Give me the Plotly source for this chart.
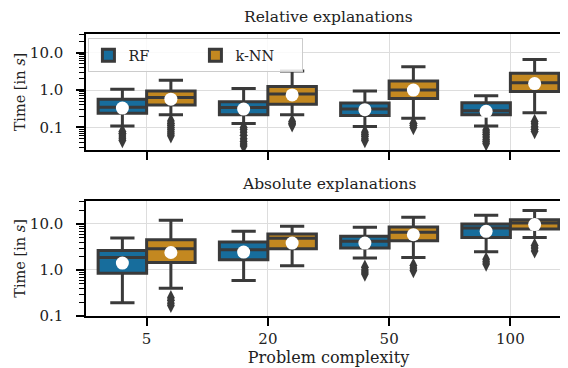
import plotly.graph_objects as go

categories = ["5", "20", "50", "100"]

# Relative explanations (time in s)
rel_rf_q1 = [0.24, 0.22, 0.21, 0.22]
rel_rf_median = [0.35, 0.34, 0.31, 0.28]
rel_rf_q3 = [0.57, 0.49, 0.45, 0.46]
rel_rf_low = [0.11, 0.128, 0.106, 0.11]
rel_rf_high = [1.05, 1.1, 0.95, 0.7]
rel_rf_mean = [0.33, 0.31, 0.30, 0.27]
rel_rf_outliers = [
    [0.078, 0.07, 0.063, 0.056, 0.05, 0.045],
    [0.1, 0.088, 0.075, 0.062, 0.05, 0.042, 0.036, 0.032],
    [0.075, 0.066, 0.058, 0.05, 0.045],
    [0.085, 0.075, 0.065, 0.056, 0.048, 0.042, 0.037],
]

rel_knn_q1 = [0.40, 0.42, 0.60, 0.91]
rel_knn_median = [0.63, 0.78, 1.0, 1.58]
rel_knn_q3 = [0.95, 1.24, 1.75, 2.8]
rel_knn_low = [0.218, 0.218, 0.177, 0.246]
rel_knn_high = [1.83, 3.25, 4.23, 6.6]
rel_knn_mean = [0.57, 0.74, 1.0, 1.49]
rel_knn_outliers = [
    [0.15, 0.13, 0.115, 0.1, 0.088, 0.077, 0.068, 0.06],
    [0.145, 0.13, 0.118],
    [0.13, 0.115, 0.1],
    [0.145, 0.125, 0.105, 0.09, 0.078],
]

# Absolute explanations (time in s)
abs_rf_q1 = [0.85, 1.67, 3.0, 5.1]
abs_rf_median = [1.87, 2.75, 4.2, 8.2]
abs_rf_q3 = [2.66, 4.05, 5.4, 10.0]
abs_rf_low = [0.195, 0.59, 1.81, 2.5]
abs_rf_high = [4.95, 6.9, 8.5, 15.5]
abs_rf_mean = [1.41, 2.45, 3.85, 6.9]
abs_rf_outliers = [
    [],
    [],
    [1.15, 1.0, 0.9, 0.82],
    [1.7, 1.5, 1.35],
]

abs_knn_q1 = [1.46, 2.9, 4.3, 7.8]
abs_knn_median = [2.9, 4.9, 6.6, 10.5]
abs_knn_q3 = [4.55, 6.05, 8.6, 12.4]
abs_knn_low = [0.40, 1.23, 1.87, 5.1]
abs_knn_high = [12.0, 8.9, 14.0, 19.6]
abs_knn_mean = [2.4, 3.85, 5.85, 9.7]
abs_knn_outliers = [
    [0.25, 0.22, 0.19, 0.17],
    [],
    [1.25, 1.1, 0.97],
    [3.4, 3.0, 2.6],
]

BLUE = "#176d9c"
ORANGE = "#c38820"
GRAY = "#3a3a3a"
FONT = "DejaVu Serif"

fig = go.Figure()


def add_group(name, color, offset, q1, med, q3, low, high, mean, outliers, xaxis, yaxis, showlegend):
    pos = [i + offset for i in range(len(categories))]
    fig.add_trace(go.Box(
        x=pos, q1=q1, median=med, q3=q3, lowerfence=low, upperfence=high,
        width=0.4, whiskerwidth=0.5, name=name, legendgroup=name,
        showlegend=showlegend, fillcolor=color, line=dict(color=GRAY, width=3),
        boxpoints=False, xaxis=xaxis, yaxis=yaxis,
    ))
    ox, oy = [], []
    for p, vals in zip(pos, outliers):
        ox += [p] * len(vals)
        oy += vals
    fig.add_trace(go.Scatter(
        x=ox, y=oy, mode="markers", showlegend=False, xaxis=xaxis, yaxis=yaxis,
        marker=dict(symbol="diamond-tall", size=11, color=GRAY, line=dict(width=0)),
    ))
    fig.add_trace(go.Scatter(
        x=pos, y=mean, mode="markers", showlegend=False, xaxis=xaxis, yaxis=yaxis,
        marker=dict(symbol="circle", size=13, color="white", line=dict(width=0)),
    ))


add_group("RF", BLUE, -0.2, rel_rf_q1, rel_rf_median, rel_rf_q3, rel_rf_low, rel_rf_high,
          rel_rf_mean, rel_rf_outliers, "x", "y", True)
add_group("k-NN", ORANGE, 0.2, rel_knn_q1, rel_knn_median, rel_knn_q3, rel_knn_low, rel_knn_high,
          rel_knn_mean, rel_knn_outliers, "x", "y", True)
add_group("RF", BLUE, -0.2, abs_rf_q1, abs_rf_median, abs_rf_q3, abs_rf_low, abs_rf_high,
          abs_rf_mean, abs_rf_outliers, "x2", "y2", False)
add_group("k-NN", ORANGE, 0.2, abs_knn_q1, abs_knn_median, abs_knn_q3, abs_knn_low, abs_knn_high,
          abs_knn_mean, abs_knn_outliers, "x2", "y2", False)

xcommon = dict(
    range=[-0.5, 3.5], tickvals=[0, 1, 2, 3], ticktext=categories,
    showline=True, mirror=True, linecolor="black", linewidth=1.5,
    ticks="outside", ticklen=8, tickwidth=1.6, tickcolor="#000000",
    ticklabelstandoff=0, tickfont=dict(size=15),
    showgrid=True, gridcolor="#dddddd", gridwidth=1, zeroline=False,
)
# one major tick per decade, minor ticks on all digits 2..9
ycommon = dict(
    type="log", tickmode="linear", tick0=0, dtick=1, tickformat=".1f",
    showline=True, mirror=True, linecolor="black", linewidth=1.5,
    ticks="outside", ticklen=8, tickwidth=1.6, tickcolor="#000000",
    ticklabelstandoff=10, tickfont=dict(size=15),
    showgrid=True, gridcolor="#dddddd", gridwidth=1, zeroline=False,
    minor=dict(dtick="D1", ticks="outside", ticklen=5, tickwidth=1.2,
               tickcolor="#000000", showgrid=False),
)

ytitle = dict(text="Time [in <i>s</i>]", x=-0.1355, xref="paper", yref="paper",
              xanchor="center", yanchor="middle", textangle=-90, showarrow=False,
              font=dict(family=FONT, size=14.5))

fig.update_layout(
    width=568, height=368,
    margin=dict(l=78, r=3, t=26, b=60),
    paper_bgcolor="white", plot_bgcolor="white",
    font=dict(family=FONT, size=15, color="#222222"),
    boxmode="overlay",
    xaxis=dict(xcommon, domain=[0, 1], anchor="y", showticklabels=False),
    yaxis=dict(ycommon, domain=[0.589, 1], anchor="x", range=[-1.6, 1.5]),
    xaxis2=dict(xcommon, domain=[0, 1], anchor="y2",
                title=dict(text="Problem complexity", standoff=2, font=dict(size=16))),
    yaxis2=dict(ycommon, domain=[0, 0.408], anchor="x2", range=[-1, 1.5]),
    legend=dict(
        orientation="h", x=0.005, y=0.985, xanchor="left", yanchor="top",
        bgcolor="rgba(255,255,255,0.85)", bordercolor="#cccccc", borderwidth=1,
        font=dict(family=FONT, size=14.5), entrywidth=62,
    ),
    annotations=[
        dict(text="Relative explanations", x=0.5, y=1, xref="paper", yref="paper",
             xanchor="center", yanchor="bottom", yshift=6, showarrow=False,
             font=dict(family=FONT, size=15.5)),
        dict(text="Absolute explanations", x=0.5, y=0.408, xref="paper", yref="paper",
             xanchor="center", yanchor="bottom", yshift=6, showarrow=False,
             font=dict(family=FONT, size=15.5)),
        dict(ytitle, y=0.794),
        dict(ytitle, y=0.204),
    ],
)

fig.write_html("out.html")
